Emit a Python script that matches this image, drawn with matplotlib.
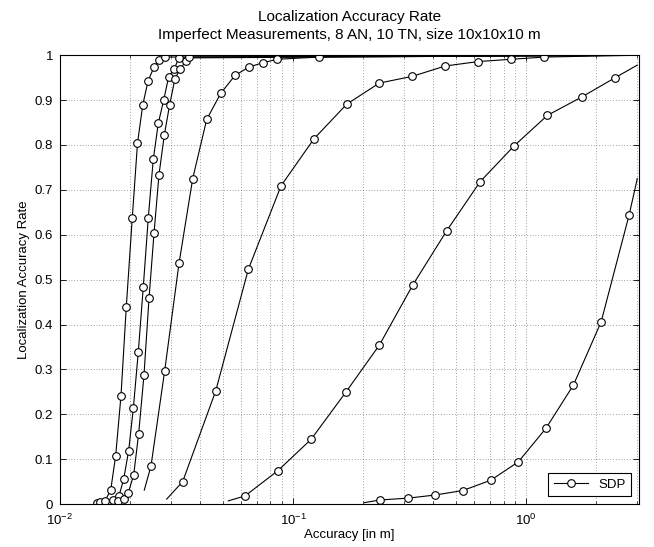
import numpy as np
import matplotlib
matplotlib.use("Agg")
import matplotlib.pyplot as plt
from matplotlib.ticker import LogLocator, NullFormatter, FixedLocator

plt.rcParams['font.family'] = ['Liberation Sans', 'DejaVu Sans']
plt.rcParams['mathtext.fontset'] = 'custom'
plt.rcParams['mathtext.rm'] = 'Liberation Sans'

# accuracy [m] vs. localization accuracy rate
# (first/last entries of some curves carry no marker)
acc_a = [0.01437, 0.01481, 0.01560, 0.01651, 0.01734, 0.01827, 0.01925, 0.02043,
         0.02151, 0.02267, 0.02386, 0.02532, 0.02660, 0.02822, 3.0]
rate_a = [0.002, 0.005, 0.007, 0.031, 0.108, 0.241, 0.438, 0.638,
          0.804, 0.890, 0.942, 0.974, 0.989, 0.996, 1.0]

acc_b = [0.01689, 0.01791, 0.01876, 0.01971, 0.02064, 0.02168, 0.02278, 0.02393,
         0.02514, 0.02641, 0.02786, 0.02927, 0.03094, 0.03241, 3.0]
rate_b = [0.008, 0.018, 0.055, 0.119, 0.213, 0.339, 0.484, 0.638,
          0.768, 0.848, 0.900, 0.952, 0.970, 0.994, 1.0]

acc_c = [0.01774, 0.01882, 0.01964, 0.02072, 0.02176, 0.02293, 0.02410, 0.02532,
         0.02660, 0.02803, 0.02956, 0.03115, 0.03284, 0.03474, 0.03588, 3.0]
rate_c = [0.006, 0.011, 0.025, 0.065, 0.157, 0.287, 0.458, 0.603,
          0.734, 0.822, 0.890, 0.948, 0.970, 0.987, 0.996, 1.0]

acc_d = [0.02300, 0.02458, 0.02814, 0.03241, 0.03711, 0.04262, 0.04894, 0.05636,
         0.06475, 0.07413, 0.08538, 0.1293, 3.0]
rate_d = [0.031, 0.085, 0.297, 0.536, 0.725, 0.857, 0.915, 0.955,
          0.974, 0.983, 0.991, 0.996, 1.0]

acc_e = [0.02871, 0.03362, 0.04659, 0.06430, 0.08882, 0.1231, 0.1700, 0.2346,
         0.3251, 0.4491, 0.6240, 0.8623, 1.198, 3.0]
rate_e = [0.011, 0.050, 0.252, 0.523, 0.709, 0.814, 0.891, 0.938,
          0.953, 0.976, 0.986, 0.991, 0.996, 1.0]

acc_f = [0.05277, 0.06223, 0.08598, 0.1195, 0.1684, 0.2346, 0.3264, 0.4566,
         0.6346, 0.8882, 1.234, 1.734, 2.410, 3.0]
rate_f = [0.007, 0.018, 0.074, 0.144, 0.249, 0.354, 0.488, 0.609,
          0.718, 0.798, 0.866, 0.907, 0.950, 0.978]

acc_g = [0.2023, 0.2362, 0.3107, 0.4068, 0.5351, 0.7056, 0.9268, 1.218,
         1.596, 2.099, 2.767, 3.0]
rate_g = [0.003, 0.009, 0.013, 0.020, 0.030, 0.053, 0.094, 0.169,
          0.265, 0.406, 0.644, 0.725]

curves = [
    (acc_a, rate_a, slice(0, -1)),
    (acc_b, rate_b, slice(0, -1)),
    (acc_c, rate_c, slice(0, -1)),
    (acc_d, rate_d, slice(1, -1)),
    (acc_e, rate_e, slice(1, -1)),
    (acc_f, rate_f, slice(1, -1)),
    (acc_g, rate_g, slice(1, -1)),
]

fig = plt.figure(figsize=(6.54, 5.47), dpi=100)
ax = fig.add_axes([0.0917, 0.0786, 0.8853, 0.8204])

for i, (x, y, mk) in enumerate(curves):
    ax.plot(x, y, color='black', lw=0.8, marker='o', markersize=5.5,
            markerfacecolor='white', markeredgecolor='black', markeredgewidth=0.8,
            markevery=mk, label='SDP' if i == 0 else None, clip_on=True)

ax.set_xscale('log')
ax.set_xlim(0.01, 3.05)
ax.set_ylim(0, 1)
ax.xaxis.set_major_locator(LogLocator(base=10, numticks=10))
ax.xaxis.set_minor_locator(LogLocator(base=10, subs=np.arange(2, 10), numticks=20))
ax.xaxis.set_minor_formatter(NullFormatter())
ax.yaxis.set_major_locator(FixedLocator(np.arange(0, 1.01, 0.1)))
ax.set_yticklabels(['0'] + ['%.1f' % v for v in np.arange(0.1, 0.95, 0.1)] + ['1'])

ax.tick_params(which='both', direction='in', top=True, right=True, labelsize=9.5)
ax.tick_params(which='major', length=4, width=0.6)
ax.tick_params(which='minor', length=2, width=0.5)
ax.tick_params(axis='x', which='major', pad=6)
ax.tick_params(axis='y', which='major', pad=5)
ax.grid(True, which='both', linestyle=(0, (1, 3)), color='black', linewidth=0.5, alpha=0.7)
for sp in ax.spines.values():
    sp.set_linewidth(0.8)

ax.set_xlabel('Accuracy [in m]', fontsize=9.5, labelpad=1)
ax.set_ylabel('Localization Accuracy Rate', fontsize=9.5, labelpad=3)
ax.set_title('Localization Accuracy Rate\nImperfect Measurements, 8 AN, 10 TN, size 10x10x10 m',
             fontsize=11, linespacing=1.3, pad=12)

leg = ax.legend(loc='lower right', fontsize=9.5, fancybox=False, framealpha=1,
                edgecolor='black', handlelength=2.6, borderaxespad=0.6)
leg.get_frame().set_linewidth(0.8)

fig.savefig('out.png', dpi=100)
